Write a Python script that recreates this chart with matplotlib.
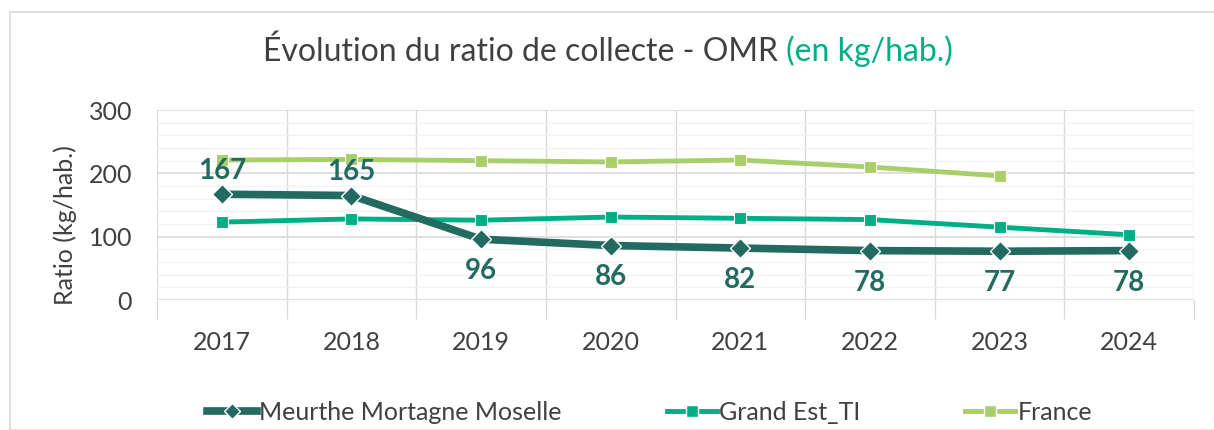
import matplotlib.pyplot as plt
from matplotlib.patches import Rectangle
from matplotlib.lines import Line2D

plt.rcParams['font.family'] = ['Lato', 'DejaVu Sans']

# Données
annees = ["2017", "2018", "2019", "2020", "2021", "2022", "2023", "2024"]
mmm = [167, 165, 96, 86, 82, 78, 77, 78]
grand_est = [123, 128, 126, 131, 129, 127, 115, 103]
france = [221, 222, 220, 218, 221, 210, 196]

# position des étiquettes (au-dessus / en dessous)
etiquette_haut = [True, True, False, False, False, False, False, False]

c_mmm = "#236B61"
c_ge = "#00AE86"
c_fr = "#A9CF6B"
c_txt = "#404040"

fig = plt.figure(figsize=(12.14, 4.30), dpi=100)
ax = fig.add_axes([157 / 1214, 130 / 430, (1194 - 157) / 1214, 190 / 430])

# cadre extérieur
fig.patches.append(Rectangle((10 / 1214, 0), 1.2, (430 - 12) / 430, transform=fig.transFigure,
                             fill=False, edgecolor="#D9D9D9", linewidth=1.2))

x = list(range(len(annees)))
ax.plot(x[:len(france)], france, color=c_fr, lw=3.5, marker="s", ms=9,
        markeredgecolor="white", markeredgewidth=0.8, zorder=3)
ax.plot(x, grand_est, color=c_ge, lw=3.5, marker="s", ms=9,
        markeredgecolor="white", markeredgewidth=0.8, zorder=4)
ax.plot(x, mmm, color=c_mmm, lw=5.5, marker="D", ms=10,
        markeredgecolor="white", markeredgewidth=1, zorder=5)

for i, v in enumerate(mmm):
    dy = 17 if etiquette_haut[i] else -23
    ax.annotate(str(v), (i, v), xytext=(0, dy), textcoords="offset points",
                ha="center", va="center", fontsize=20, fontweight="bold", color=c_mmm)

ax.set_xlim(-0.5, len(annees) - 0.5)
ax.set_ylim(0, 300)
ax.set_xticks(x)
ax.set_xticklabels(annees)
ax.set_xticks([i - 0.5 for i in range(len(annees) + 1)], minor=True)
ax.set_yticks([0, 100, 200, 300])
ax.set_yticks(range(0, 301, 20), minor=True)

ax.tick_params(axis="x", which="major", length=0, pad=22, labelsize=18, labelcolor=c_txt)
ax.tick_params(axis="x", which="minor", length=14, color="#D9D9D9", width=1)
ax.tick_params(axis="y", which="both", length=0, pad=18, labelsize=18, labelcolor=c_txt)

ax.grid(True, axis="x", which="minor", color="#D9D9D9", lw=1)
ax.grid(True, axis="y", which="minor", color="#F2F2F2", lw=1)
ax.grid(True, axis="y", which="major", color="#D9D9D9", lw=1.2)
ax.set_axisbelow(True)
for s in ax.spines.values():
    s.set_visible(False)

fig.text(65 / 1214, 205 / 430, "Ratio (kg/hab.)", rotation=90, ha="center", va="center",
         fontsize=18, color=c_txt)

# titre en deux couleurs
t1 = fig.text(263 / 1214, (430 - 52) / 430, "Évolution du ratio de collecte - OMR ",
              ha="left", va="center", fontsize=23, color=c_txt)
fig.canvas.draw()
ax.annotate("(en kg/hab.)", xy=(1, 0), xycoords=t1, va="bottom", ha="left",
            fontsize=23, color=c_ge, annotation_clip=False)

handles = [
    Line2D([], [], color=c_mmm, lw=5.5, marker="D", ms=8, markeredgecolor="white"),
    Line2D([], [], color=c_ge, lw=3.5, marker="s", ms=8, markeredgecolor="white"),
    Line2D([], [], color=c_fr, lw=3.5, marker="s", ms=8, markeredgecolor="white"),
]
fig.legend(handles, ["Meurthe Mortagne Moselle", "Grand Est_TI", "France"],
           loc="center", bbox_to_anchor=(0.535, 18 / 430), ncol=3, frameon=False,
           fontsize=18, handlelength=2.0, handletextpad=0.1, columnspacing=4.2,
           labelcolor=c_txt)

plt.savefig("out.png", dpi=100)
